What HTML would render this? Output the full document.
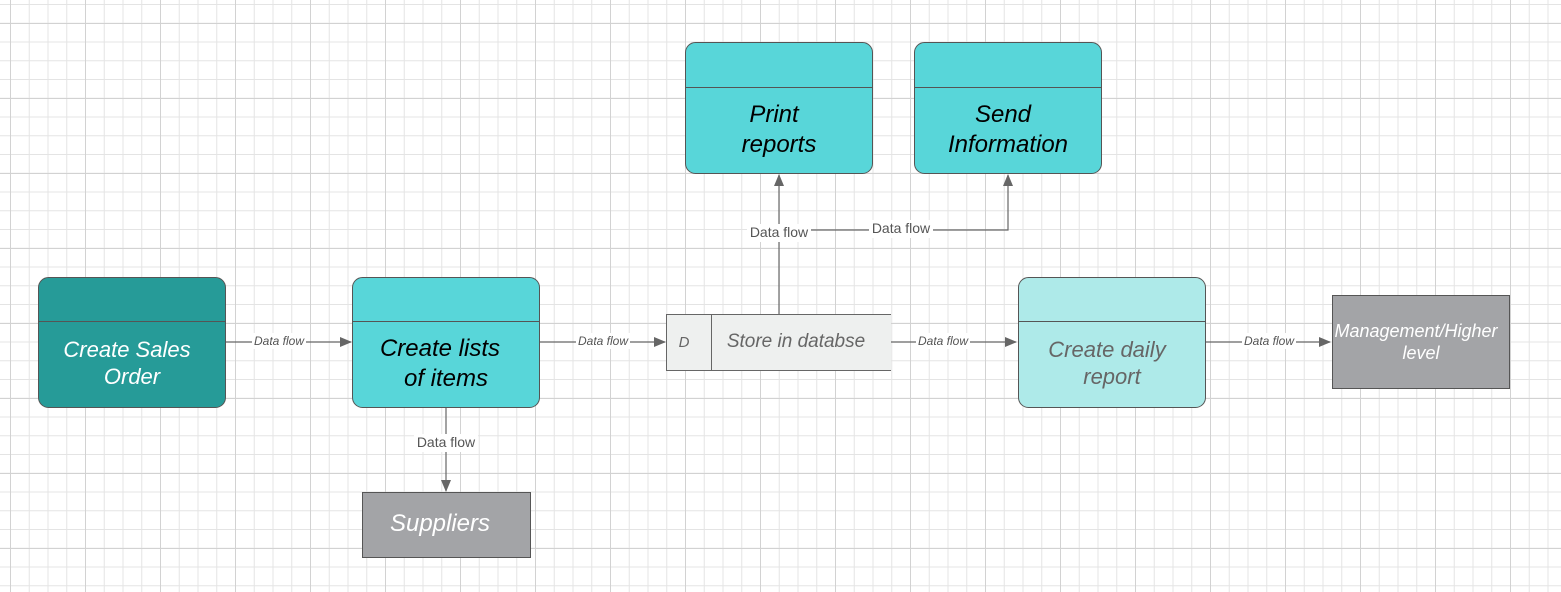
<!DOCTYPE html>
<html><head><meta charset="utf-8"><style>
html,body{margin:0;padding:0;background:#fff}
svg{display:block}
text{font-family:"Liberation Sans",sans-serif}
</style></head><body>
<svg width="1561" height="592" xmlns="http://www.w3.org/2000/svg">
<defs>
<pattern id="minor" x="10" y="4" width="18.75" height="18.75" patternUnits="userSpaceOnUse">
<path d="M0 0.5H18.75M0.5 0V18.75" stroke="#e4e4e4" stroke-width="1" fill="none"/>
</pattern>
<pattern id="major" x="10" y="23" width="75" height="75" patternUnits="userSpaceOnUse">
<path d="M0 0.5H75M0.5 0V75" stroke="#d2d2d2" stroke-width="1" fill="none"/>
</pattern>
<marker id="ar" markerWidth="12" markerHeight="10" refX="11" refY="5" orient="auto" markerUnits="userSpaceOnUse">
<path d="M0 0L12 5L0 10z" fill="#666"/>
</marker>
</defs>
<rect width="1561" height="592" fill="url(#minor)"/>
<rect width="1561" height="592" fill="url(#major)"/>

<g stroke="#666" stroke-width="1.2" fill="none">
<path d="M226 342H351" marker-end="url(#ar)"/>
<path d="M540 342H665" marker-end="url(#ar)"/>
<path d="M891 342H1016" marker-end="url(#ar)"/>
<path d="M1205 342H1330" marker-end="url(#ar)"/>
<path d="M446 408V491" marker-end="url(#ar)"/>
<path d="M779 314V175" marker-end="url(#ar)"/>
<path d="M779 230H1008V175" marker-end="url(#ar)"/>
</g>
<g font-size="12" font-style="italic" fill="#555" text-anchor="middle">
<rect x="252" y="333" width="54" height="16" fill="#fff"/><text x="279" y="345">Data flow</text>
<rect x="576" y="333" width="54" height="16" fill="#fff"/><text x="603" y="345">Data flow</text>
<rect x="916" y="333" width="54" height="16" fill="#fff"/><text x="943" y="345">Data flow</text>
<rect x="1242" y="333" width="54" height="16" fill="#fff"/><text x="1269" y="345">Data flow</text>
</g>
<g font-size="14" fill="#555" text-anchor="middle">
<rect x="414" y="434" width="64" height="18" fill="#fff"/><text x="446" y="447">Data flow</text>
<rect x="747" y="224" width="64" height="18" fill="#fff"/><text x="779" y="237">Data flow</text>
<rect x="869" y="220" width="64" height="18" fill="#fff"/><text x="901" y="233">Data flow</text>
</g>

<rect x="38.5" y="277.5" width="187" height="130" rx="10" fill="#269b98" stroke="#555"/>
<line x1="38.5" y1="321.5" x2="225.5" y2="321.5" stroke="#555"/>
<g font-size="22" font-style="italic" fill="#fff" text-anchor="middle">
<text x="127" y="357">Create Sales</text><text x="132" y="384">Order</text></g>

<rect x="352.5" y="277.5" width="187" height="130" rx="10" fill="#58d6d9" stroke="#555"/>
<line x1="352.5" y1="321.5" x2="539.5" y2="321.5" stroke="#555"/>
<g font-size="24" font-style="italic" fill="#000" text-anchor="middle">
<text x="440" y="356">Create lists</text><text x="446" y="386">of items</text></g>

<rect x="685.5" y="42.5" width="187" height="131" rx="10" fill="#58d6d9" stroke="#555"/>
<line x1="685.5" y1="87.5" x2="872.5" y2="87.5" stroke="#555"/>
<g font-size="24" font-style="italic" fill="#000" text-anchor="middle">
<text x="774" y="122">Print</text><text x="779" y="152">reports</text></g>

<rect x="914.5" y="42.5" width="187" height="131" rx="10" fill="#58d6d9" stroke="#555"/>
<line x1="914.5" y1="87.5" x2="1101.5" y2="87.5" stroke="#555"/>
<g font-size="24" font-style="italic" fill="#000" text-anchor="middle">
<text x="1003" y="122">Send</text><text x="1008" y="152">Information</text></g>

<rect x="667" y="315" width="224" height="55" fill="#eef0ef"/>
<path d="M891 314.5H666.5V370.5H891" fill="none" stroke="#666"/>
<line x1="711.5" y1="314.5" x2="711.5" y2="370.5" stroke="#666"/>
<text x="684" y="347" font-size="15" font-style="italic" fill="#666" text-anchor="middle">D</text>
<text x="796" y="347" font-size="19" font-style="italic" fill="#666" text-anchor="middle">Store in databse</text>

<rect x="1018.5" y="277.5" width="187" height="130" rx="10" fill="#aeeae9" stroke="#555"/>
<line x1="1018.5" y1="321.5" x2="1205.5" y2="321.5" stroke="#555"/>
<g font-size="22" font-style="italic" fill="#666" text-anchor="middle">
<text x="1107" y="357">Create daily</text><text x="1112" y="384">report</text></g>

<rect x="1332.5" y="295.5" width="177" height="93" fill="#a3a4a7" stroke="#555"/>
<g font-size="18" font-style="italic" fill="#fff" text-anchor="middle">
<text x="1416" y="337">Management/Higher</text><text x="1421" y="359">level</text></g>

<rect x="362.5" y="492.5" width="168" height="65" fill="#a3a4a7" stroke="#555"/>
<text x="440" y="531" font-size="24" font-style="italic" fill="#fff" text-anchor="middle">Suppliers</text>
</svg>
</body></html>
